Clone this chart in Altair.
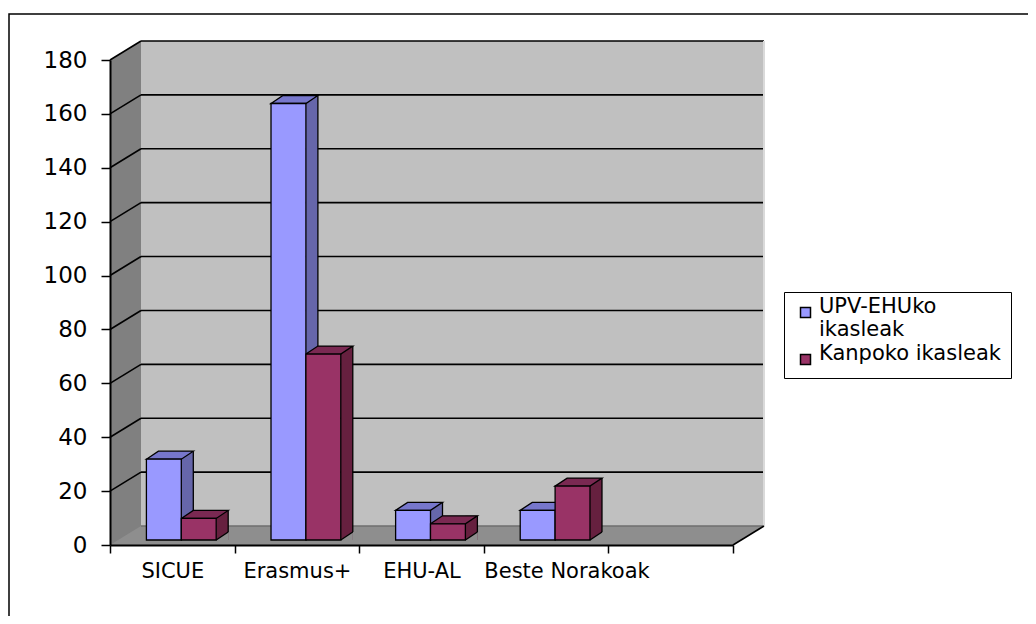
import json
import altair as alt
import pandas as pd

# ---------------- data ----------------
categories = ["SICUE", "Erasmus+", "EHU-AL", "Beste Norakoak"]
series_names = ["UPV-EHUko ikasleak", "Kanpoko ikasleak"]
upv_values = [30, 162, 11, 11]
kanpoko_values = [8, 69, 6, 20]
y_ticks = [0, 20, 40, 60, 80, 100, 120, 140, 160, 180]
n_slots = 5  # slots on the category axis (last one empty, as in the original)

rows = []
for ci, cat in enumerate(categories):
    for si, vals in enumerate([upv_values, kanpoko_values]):
        rows.append({"cat": cat, "series": series_names[si], "value": vals[ci],
                     "ci": ci, "si": si})
df = pd.DataFrame(rows)
one = pd.DataFrame({"k": [0]})
grid_df = pd.DataFrame({"v": y_ticks})

# ---------------- style / geometry ----------------
W, H = 623, 485
BAR = 0.28               # bar width as a fraction of a slot
BW = BAR * W / n_slots   # bar width in px
DX, DY = 9, -5           # depth position of the bars
BX, BY = 12, -8          # depth of each bar
WX, WY = 31, -19         # depth of the back wall
FONT = "DejaVu Sans"

front_cols = ["#9999FF", "#993366"]
side_cols = ["#6666AA", "#66203F"]
top_cols = ["#7777CC", "#7A2952"]
WALL, LWALL, FLOOR = "#C0C0C0", "#808080", "#8E8E8E"

xs = alt.Scale(domain=[0, n_slots], nice=False, zero=False)
ys = alt.Scale(domain=[0, 180], nice=False)

cat_labels = categories + [""] * (n_slots + 1 - len(categories))
last = len(categories) - 1
x_axis = alt.Axis(
    values=list(range(n_slots + 1)), labelExpr=f"{json.dumps(cat_labels)}[datum.value]",
    labelOffset={"condition": {"test": f"datum.value == {last}", "value": 0}, "value": W / n_slots / 2},
    labelAlign={"condition": {"test": f"datum.value == {last}", "value": "left"}, "value": "center"},
    labelFlush=False, labelOverlap=False, labelFont=FONT, labelFontSize=21, labelColor="black",
    labelPadding=7, tickSize=8, tickColor="black", tickWidth=1.5, domainColor="black",
    domainWidth=2, grid=False, title=None, zindex=1)
y_axis = alt.Axis(
    values=y_ticks, labelFont=FONT, labelFontSize=23, labelColor="black", labelPadding=14,
    tickSize=9, tickColor="black", tickWidth=1.5, domainColor="black", domainWidth=2,
    grid=False, title=None, zindex=1)

def X(field=None, datum=None):
    if datum is not None:
        return alt.X(datum=datum, type="quantitative", scale=xs, axis=x_axis)
    return alt.X(field, type="quantitative", scale=xs, axis=x_axis)

def Y(field=None, datum=None):
    if datum is not None:
        return alt.Y(datum=datum, type="quantitative", scale=ys, axis=y_axis)
    return alt.Y(field, type="quantitative", scale=ys, axis=y_axis)

def tri(path, x, y, color):
    return alt.Chart(one).mark_point(shape=path, size=4, filled=True, fill=color,
                                     opacity=1, strokeWidth=0).encode(x=X(datum=x), y=Y(datum=y))

# frame around the whole chart
frame = alt.Chart(one).mark_rect(fillOpacity=0, stroke="black", strokeWidth=1.5).encode(
    x=alt.value(-101), x2=alt.value(940), y=alt.value(-46), y2=alt.value(570))

wall = alt.Chart(one).mark_rect(color=WALL, xOffset=WX, x2Offset=WX, yOffset=WY, y2Offset=WY).encode(
    x=X(datum=0), x2=alt.X2(datum=n_slots), y=Y(datum=0), y2=alt.Y2(datum=180))
left_wall = alt.Chart(one).mark_rect(color=LWALL, x2Offset=WX, yOffset=WY).encode(
    x=X(datum=0), x2=alt.X2(datum=0), y=Y(datum=180), y2=alt.Y2(datum=0))
lw_cut = tri(f"M0,0 L0,{WY} L{WX},{WY} Z", 0, 180, "white")
floor = alt.Chart(one).mark_rect(color=FLOOR, x2Offset=WX, yOffset=WY).encode(
    x=X(datum=0), x2=alt.X2(datum=n_slots), y=Y(datum=0), y2=alt.Y2(datum=0))
floor_l = tri(f"M0,0 L0,{WY} L{WX},{WY} Z", 0, 0, LWALL)
floor_r = tri(f"M0,0 L{WX},{WY} L{WX},0 Z", n_slots, 0, "white")

grid = alt.Chart(grid_df).mark_rule(strokeWidth=1.6, xOffset=WX, x2Offset=WX, yOffset=WY).encode(
    y=Y("v"), x=X(datum=0), x2=alt.X2(datum=n_slots),
    color=alt.condition("datum.v == 0", alt.value("#6E6E6E"), alt.value("black")))
diag = alt.Chart(grid_df).transform_filter("datum.v > 0").mark_rule(
    color="black", strokeWidth=1.6, x2Offset=WX, y2Offset=WY).encode(
    x=X(datum=0), x2=alt.X2(datum=0), y=Y("v"), y2="v")
right_edge = alt.Chart(one).mark_rule(color="#DADADA", strokeWidth=2, xOffset=WX, yOffset=WY,
                                      y2Offset=WY).encode(
    x=X(datum=n_slots), y=Y(datum=0), y2=alt.Y2(datum=180))
floor_diag = alt.Chart(one).mark_rule(color="black", strokeWidth=1.6, x2Offset=WX, y2Offset=WY).encode(
    x=X(datum=n_slots), x2=alt.X2(datum=n_slots), y=Y(datum=0), y2=alt.Y2(datum=0))

# ---------------- bars (pseudo 3D) ----------------
base = alt.Chart(df).transform_calculate(
    x0=f"datum.ci + 0.5 - {BAR} + datum.si * {BAR}",
    x1=f"datum.ci + 0.5 + datum.si * {BAR}",
)

def pick(cols):
    return alt.condition("datum.si == 0", alt.value(cols[0]), alt.value(cols[1]))

side = base.mark_rect(xOffset=DX, x2Offset=DX + BX, yOffset=DY + BY, y2Offset=DY).encode(
    x=X("x1"), x2="x1", y=Y("value"), y2=alt.Y2(datum=0), fill=pick(side_cols))
side_cut = base.mark_point(shape=f"M0,0 L{BX},{BY} L{BX},0 Z", size=4, filled=True, opacity=1,
                           strokeWidth=0, fill=FLOOR, xOffset=DX, yOffset=DY).encode(
    x=X("x1"), y=Y(datum=0))
back_edge = base.mark_rule(color="black", strokeWidth=1.3, xOffset=DX + BX, yOffset=DY + BY,
                           y2Offset=DY + BY).encode(
    x=X("x1"), y=Y("value"), y2=alt.Y2(datum=0))
bottom_edge = base.mark_rule(color="black", strokeWidth=1.3, xOffset=DX, x2Offset=DX + BX,
                             yOffset=DY, y2Offset=DY + BY).encode(
    x=X("x1"), x2="x1", y=Y(datum=0), y2=alt.Y2(datum=0))
top = base.mark_point(shape=f"M0,0 L{BX},{BY} L{BX + BW:.2f},{BY} L{BW:.2f},0 Z", size=4,
                      filled=True, opacity=1, stroke="black", strokeWidth=1.3,
                      xOffset=DX, yOffset=DY).encode(
    x=X("x0"), y=Y("value"), fill=pick(top_cols))

first_lines = series_names[0].split(" ")
legend = alt.Legend(
    orient="none", legendX=674, legendY=232, title=None, direction="vertical",
    symbolType="square", symbolSize=100, symbolStrokeColor="black", symbolStrokeWidth=1.5,
    symbolOpacity=1, symbolOffset=1, labelFont=FONT, labelFontSize=21, labelColor="black",
    labelLimit=400, labelOffset=3, labelBaseline="alphabetic",
    labelExpr=f"datum.label == {json.dumps(series_names[0])} ? {json.dumps(first_lines)} : datum.label",
    strokeColor="black", fillColor="white", padding=10, rowPadding=2)

front = base.mark_rect(stroke="black", strokeWidth=1.3, xOffset=DX, x2Offset=DX,
                       yOffset=DY, y2Offset=DY).encode(
    x=X("x0"), x2="x1", y=Y("value"), y2=alt.Y2(datum=0),
    color=alt.Color("series:N", scale=alt.Scale(domain=series_names, range=front_cols),
                    legend=legend),
    tooltip=["cat:N", "series:N", "value:Q"])

chart = alt.layer(
    frame, wall, left_wall, lw_cut, floor, floor_l, floor_r, grid, diag, right_edge, floor_diag,
    side, side_cut, back_edge, bottom_edge, top, front,
).properties(
    width=W, height=H,
    autosize=alt.AutoSizeParams(type="none"),
    padding={"left": 102, "top": 52, "right": 295, "bottom": 71},
).configure_view(strokeWidth=0)

chart.save("out.html", embed_options={"renderer": "svg", "actions": False})
